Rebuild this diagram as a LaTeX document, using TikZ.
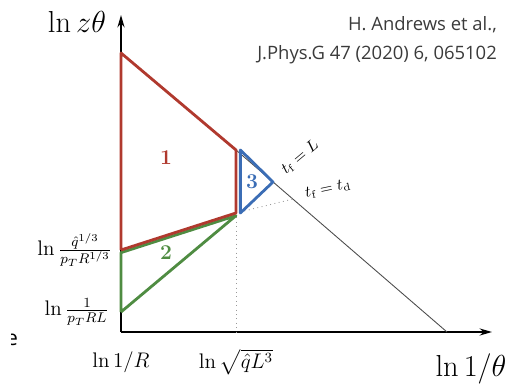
\documentclass[tikz,border=0pt]{standalone}
\usepackage{fontspec}
\usepackage{amsmath}
\newfontfamily\citefont{Open Sans}
\usetikzlibrary{arrows.meta}

\definecolor{regred}{HTML}{B0392E}
\definecolor{reggreen}{HTML}{4F8C42}
\definecolor{regblue}{HTML}{3B6DB5}
\definecolor{citegray}{HTML}{3A3A3A}

\tikzset{
	axis/.style={line width=1.1pt, -{Stealth[length=7pt, width=4pt]}},
	regline/.style={line width=1.6pt, line join=round},
	thinline/.style={line width=0.5pt, black!70},
	dotline/.style={line width=0.5pt, black!40, dotted},
	regnum/.style={font=\bfseries\large}
}

\begin{document}
\begin{tikzpicture}[x=0.02cm, y=0.02cm,
	% style for the plain text nodes
	every node/.style={inner sep=0.5pt}
	]
	\useasboundingbox (0,0) rectangle (511,386);
	
	% --- POINTS ---
	\coordinate (o) at (121, 54);
	\coordinate (ytip) at (121, 371);
	\coordinate (xtip) at (492, 54);
	\coordinate (top) at (121, 333);
	\coordinate (kink) at (236, 236);
	\coordinate (low) at (236, 173);
	\coordinate (mid) at (121, 136);
	\coordinate (bot) at (121, 74);
	\coordinate (tip3) at (273, 204);
	\coordinate (end) at (447, 54);
	\coordinate (cross) at (293, 187);
	\coordinate (foot) at (236, 54);
	
	% --- AXES ---
	\draw[axis] (o) -- (ytip);
	\draw[axis] (o) -- (xtip);
	
	% --- GUIDE LINES ---
	\draw[thinline] (kink) -- (end);
	\draw[dotline] (low) -- (cross);
	\draw[dotline] (low) -- (foot);
	
	% --- REGIONS ---
	\draw[regline, reggreen] (bot) -- ([yshift=-1.5]low) -- ([yshift=-1.5]mid) -- (bot);
	\draw[regline, regred] (mid) -- (top) -- (kink) -- (low) -- (mid);
	\draw[regline, regblue] ([xshift=2.5]kink) -- (tip3) -- ([xshift=2.5]low) -- cycle;
	
	\node[regnum, text=regred] (n1) at (166, 228) {1};
	\node[regnum, text=reggreen] (n2) at (166, 133) {2};
	\node[regnum, text=regblue] (n3) at (252, 204) {3};
	
	% --- LABELS ---
	\node[font=\LARGE] (ylab) at (77, 364) {$\ln z\theta$};
	\node[font=\LARGE] (xlab) at (471, 17) {$\ln 1/\theta$};
	\node[font=\large] (x1) at (121, 24) {$\ln 1/R$};
	\node[font=\large] (x2) at (236, 24) {$\ln \sqrt{\hat{q}L^3}$};
	\node[font=\large, anchor=east] (y1) at (113, 136) {$\ln \frac{\hat{q}^{1/3}}{p_T R^{1/3}}$};
	\node[font=\large, anchor=east] (y2) at (110, 74) {$\ln \frac{1}{p_T R L}$};
	\node[font=\small, rotate=40] (tfl) at (300, 229) {$t_{\mathrm{f}} = L$};
	\node[font=\small, rotate=12] (tfd) at (328, 197) {$t_{\mathrm{f}} = t_{\mathrm{d}}$};
	
	% --- CITATION ---
	\node[font=\citefont\fontsize{10.5}{12}\selectfont, text=citegray, anchor=east] (cite1) at (498, 361) {H. Andrews et al.,};
	\node[font=\citefont\fontsize{10.5}{12}\selectfont, text=citegray, anchor=east] (cite2) at (498, 331) {J.Phys.G 47 (2020) 6, 065102};
	
	% --- STRAY GLYPH AT LEFT EDGE ---
	\begin{scope}
		\clip (11, 30) rectangle (20, 60);
		\node[font=\citefont\large, anchor=west] (stray) at (5, 46) {e};
	\end{scope}
	
\end{tikzpicture}
\end{document}
